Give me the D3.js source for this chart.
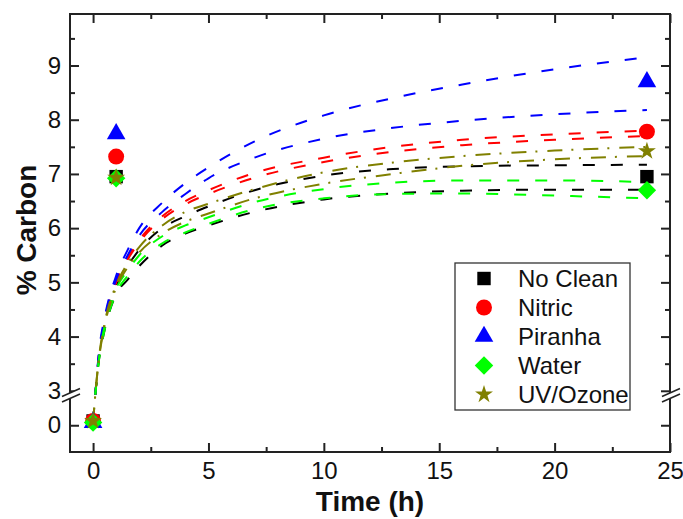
<!DOCTYPE html>
<html>
<head>
<meta charset="utf-8">
<script src="https://cdn.jsdelivr.net/npm/d3@7"></script>
<style>
body { margin: 0; background: #fff; }
text { font-family: "Liberation Sans", Arial, sans-serif; fill: #111; }
</style>
</head>
<body>
<svg id="chart" width="683" height="519"></svg>
<script>
// measured points
var seriesNames = ["No Clean", "Nitric", "Piranha", "Water", "UV/Ozone"];
var seriesColors = ["#000000", "#ff0000", "#0000ff", "#00ff00", "#808000"];
var pointTimes = [0, 1, 24];
var noCleanPts = [0.08, 6.95, 6.95];
var nitricPts = [0.08, 7.32, 7.78];
var piranhaPts = [0.05, 7.74, 8.70];
var waterPts = [0.05, 6.92, 6.70];
var uvPts = [0.08, 6.93, 7.42];

// fit bands (upper / lower)
var fitTimes = [0, 0.1, 0.25, 0.5, 1, 1.5, 2, 3, 4, 5, 7, 10, 13, 16, 20, 24];
var noCleanHi = [0.05, 2.9, 3.6, 4.22, 4.92, 5.3, 5.6, 6.0, 6.22, 6.4, 6.7, 6.97, 7.09, 7.14, 7.16, 7.17];
var noCleanLo = [0.05, 2.88, 3.55, 4.12, 4.78, 5.05, 5.3, 5.68, 5.9, 6.05, 6.3, 6.53, 6.64, 6.69, 6.71, 6.71];
var nitricHi = [0.05, 2.93, 3.65, 4.3, 5.02, 5.45, 5.78, 6.22, 6.5, 6.7, 7.02, 7.3, 7.5, 7.63, 7.73, 7.8];
var nitricLo = [0.05, 2.92, 3.63, 4.28, 5.0, 5.42, 5.74, 6.17, 6.44, 6.63, 6.93, 7.22, 7.41, 7.53, 7.63, 7.7];
var piranhaHi = [0.05, 2.95, 3.7, 4.35, 5.12, 5.6, 6.0, 6.47, 6.83, 7.12, 7.6, 8.08, 8.4, 8.65, 8.93, 9.15];
var piranhaLo = [0.05, 2.93, 3.65, 4.3, 5.05, 5.5, 5.86, 6.3, 6.63, 6.92, 7.3, 7.65, 7.85, 7.98, 8.1, 8.18];
var waterHi = [0.05, 2.9, 3.57, 4.2, 4.88, 5.22, 5.5, 5.85, 6.05, 6.2, 6.48, 6.72, 6.84, 6.88, 6.88, 6.85];
var waterLo = [0.05, 2.88, 3.55, 4.12, 4.8, 5.12, 5.38, 5.72, 5.92, 6.08, 6.35, 6.55, 6.63, 6.64, 6.6, 6.55];
var uvHi = [0.05, 2.9, 3.6, 4.25, 4.95, 5.35, 5.65, 6.05, 6.3, 6.45, 6.72, 7.03, 7.21, 7.33, 7.43, 7.5];
var uvLo = [0.05, 2.88, 3.57, 4.2, 4.9, 5.28, 5.55, 5.9, 6.12, 6.27, 6.55, 6.82, 7.0, 7.15, 7.27, 7.33];

var xTicks = [0, 5, 10, 15, 20, 25];
var xMinor = [2.5, 7.5, 12.5, 17.5, 22.5];
var yTicks = [0, 3, 4, 5, 6, 7, 8, 9];
var yMinor = [3.5, 4.5, 5.5, 6.5, 7.5, 8.5, 9.5];

var L = 70, R = 670, T = 14, B = 452;
var svg = d3.select("#chart");

var x = d3.scaleLinear().domain([-1, 25]).range([L, R]);
// broken axis: lower part -0.5..0.5, upper part 2.95..9.95
var y = d3.scaleLinear().domain([-0.5, 0.5, 2.95, 9.95]).range([B, 398.5, 393.5, T]);

svg.append("defs").append("clipPath").attr("id", "plotclip")
    .append("rect").attr("x", L).attr("y", T).attr("width", R - L).attr("height", B - T);

// fit curves
var fits = [
    {c: 0, vals: noCleanHi}, {c: 0, vals: noCleanLo},
    {c: 1, vals: nitricHi}, {c: 1, vals: nitricLo},
    {c: 2, vals: piranhaHi}, {c: 2, vals: piranhaLo},
    {c: 3, vals: waterHi}, {c: 3, vals: waterLo},
    {c: 4, vals: uvHi}, {c: 4, vals: uvLo}
];
var line = d3.line()
    .x(function (d) { return x(d[0]); })
    .y(function (d) { return y(d[1]); })
    .curve(d3.curveMonotoneX);

svg.append("g").attr("clip-path", "url(#plotclip)")
    .selectAll("path")
    .data(fits)
    .enter().append("path")
    .attr("fill", "none")
    .attr("stroke", function (d) { return seriesColors[d.c]; })
    .attr("stroke-width", 2)
    .attr("stroke-dasharray", function (d) { return d.c === 4 ? "15,9,2,10" : "12,16"; })
    .attr("d", function (d) {
        return line(fitTimes.map(function (t, i) { return [t, d.vals[i]]; }));
    });

// axes (ticks inside on all four sides)
function styleAxis(g) {
    g.select(".domain").remove();
    g.selectAll("line").attr("stroke", "#222").attr("stroke-width", 2);
    g.selectAll("text").attr("font-size", 24).attr("fill", "#111")
        .style("font-family", "'Liberation Sans', Arial, sans-serif");
}
svg.append("g").attr("transform", "translate(0," + B + ")")
    .call(d3.axisBottom(x).tickValues(xTicks).tickSize(-9).tickPadding(10).tickFormat(d3.format("d")))
    .call(styleAxis);
svg.append("g").attr("transform", "translate(0," + B + ")")
    .call(d3.axisBottom(x).tickValues(xMinor).tickSize(-5).tickFormat(""))
    .call(styleAxis);
svg.append("g").attr("transform", "translate(0," + T + ")")
    .call(d3.axisTop(x).tickValues(xTicks).tickSize(-9).tickFormat(""))
    .call(styleAxis);
svg.append("g").attr("transform", "translate(0," + T + ")")
    .call(d3.axisTop(x).tickValues(xMinor).tickSize(-5).tickFormat(""))
    .call(styleAxis);
svg.append("g").attr("transform", "translate(" + L + ",0)")
    .call(d3.axisLeft(y).tickValues(yTicks).tickSize(-9).tickPadding(9).tickFormat(d3.format("d")))
    .call(styleAxis);
svg.append("g").attr("transform", "translate(" + L + ",0)")
    .call(d3.axisLeft(y).tickValues(yMinor).tickSize(-5).tickFormat(""))
    .call(styleAxis);
svg.append("g").attr("transform", "translate(" + R + ",0)")
    .call(d3.axisRight(y).tickValues(yTicks).tickSize(-9).tickFormat(""))
    .call(styleAxis);
svg.append("g").attr("transform", "translate(" + R + ",0)")
    .call(d3.axisRight(y).tickValues(yMinor).tickSize(-5).tickFormat(""))
    .call(styleAxis);

svg.append("rect")
    .attr("x", L).attr("y", T).attr("width", R - L).attr("height", B - T)
    .attr("fill", "none").attr("stroke", "#222").attr("stroke-width", 2);

// break marks on both sides
[L, R].forEach(function (ax) {
    var g = svg.append("g").attr("transform", "translate(" + ax + ",0)");
    g.append("polygon")
        .attr("points", "-8,396.5 10,388.5 10,394 -8,402")
        .attr("fill", "#fff");
    g.append("line").attr("x1", -8).attr("y1", 396.5).attr("x2", 10).attr("y2", 388.5)
        .attr("stroke", "#222").attr("stroke-width", 1.6);
    g.append("line").attr("x1", -8).attr("y1", 402).attr("x2", 10).attr("y2", 394)
        .attr("stroke", "#222").attr("stroke-width", 1.6);
});

// markers
var diamond = {
    draw: function (ctx, size) {
        var r = Math.sqrt(size / 2);
        ctx.moveTo(0, -r); ctx.lineTo(r, 0); ctx.lineTo(0, r); ctx.lineTo(-r, 0); ctx.closePath();
    }
};
var symbols = [
    d3.symbol().type(d3.symbolSquare).size(180),
    d3.symbol().type(d3.symbolCircle).size(200),
    d3.symbol().type(d3.symbolTriangle).size(150),
    d3.symbol().type(diamond).size(170),
    d3.symbol().type(d3.symbolStar).size(100)
];
var pointSets = [noCleanPts, nitricPts, piranhaPts, waterPts, uvPts];
pointSets.forEach(function (vals, s) {
    svg.append("g").selectAll("path")
        .data(vals)
        .enter().append("path")
        .attr("transform", function (d, i) {
            return "translate(" + x(pointTimes[i]) + "," + y(d) + ")";
        })
        .attr("d", symbols[s]())
        .attr("fill", seriesColors[s]);
});

// legend
var legend = svg.append("g");
legend.append("rect")
    .attr("x", 455).attr("y", 263).attr("width", 175).attr("height", 147)
    .attr("fill", "#fff").attr("stroke", "#333").attr("stroke-width", 1.3);
var rows = legend.selectAll("g.row")
    .data(seriesNames)
    .enter().append("g")
    .attr("class", "row")
    .attr("transform", function (d, i) { return "translate(0," + (278.5 + i * 29) + ")"; });
rows.append("path")
    .attr("transform", "translate(484,0)")
    .attr("d", function (d, i) { return symbols[i](); })
    .attr("fill", function (d, i) { return seriesColors[i]; });
rows.append("text")
    .attr("x", 518).attr("dy", "0.36em")
    .attr("font-size", 24)
    .text(function (d) { return d; });

// axis titles
svg.append("text")
    .attr("x", (L + R) / 2).attr("y", 511)
    .attr("text-anchor", "middle")
    .attr("font-size", 28).attr("font-weight", "bold")
    .text("Time (h)");
svg.append("text")
    .attr("transform", "translate(36,230) rotate(-90)")
    .attr("text-anchor", "middle")
    .attr("font-size", 28).attr("font-weight", "bold")
    .text("% Carbon");
</script>
</body>
</html>
